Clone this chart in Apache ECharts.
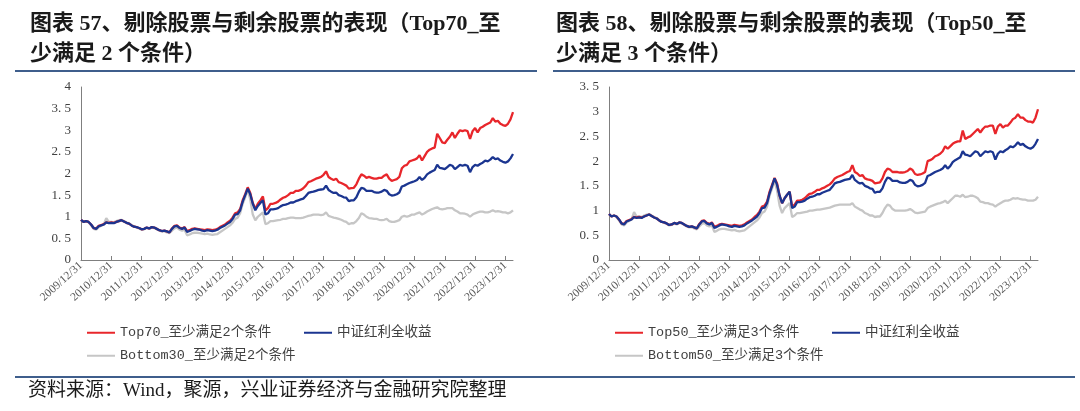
<!DOCTYPE html>
<html><head><meta charset="utf-8">
<script src="https://cdn.jsdelivr.net/npm/echarts@6/dist/echarts.min.js"></script>
<style>html,body{margin:0;padding:0;background:#fff}#c{width:1080px;height:411px}</style>
</head><body><div id="c"></div>
<script>
// Monthly points, 2009/12 .. 2024/03 (172 months)
const tickLabels = ['2009/12/31','2010/12/31','2011/12/31','2012/12/31','2013/12/31','2014/12/31','2015/12/31','2016/12/31','2017/12/31','2018/12/31','2019/12/31','2020/12/31','2021/12/31','2022/12/31','2023/12/31'];

const dividendIndex = [0.93,
0.88,0.9,0.88,0.82,0.74,0.72,0.78,0.8,0.82,0.87,0.85,0.86,
0.85,0.88,0.9,0.92,0.89,0.86,0.84,0.8,0.77,0.76,0.74,0.71,
0.72,0.75,0.73,0.76,0.75,0.72,0.69,0.67,0.68,0.66,0.64,0.72,
0.78,0.79,0.74,0.72,0.75,0.65,0.67,0.7,0.72,0.71,0.7,0.68,
0.67,0.69,0.68,0.67,0.68,0.7,0.74,0.77,0.8,0.84,0.88,0.95,
1.05,1.06,1.15,1.35,1.5,1.65,1.52,1.3,1.15,1.25,1.32,1.38,
1.05,1.08,1.17,1.17,1.18,1.2,1.24,1.27,1.28,1.3,1.33,1.33,
1.36,1.38,1.4,1.42,1.48,1.55,1.57,1.58,1.6,1.62,1.63,1.64,
1.72,1.62,1.58,1.55,1.56,1.5,1.48,1.45,1.44,1.36,1.38,1.38,
1.45,1.58,1.67,1.65,1.6,1.6,1.6,1.57,1.56,1.56,1.58,1.62,
1.6,1.52,1.49,1.5,1.52,1.56,1.7,1.72,1.75,1.78,1.8,1.82,
1.85,1.92,1.85,1.9,1.98,2.02,2.05,2.08,2.2,2.13,2.12,2.1,
2.15,2.2,2.18,2.1,2.15,2.2,2.18,2.2,2.18,2.03,2.15,2.2,
2.18,2.22,2.25,2.3,2.28,2.32,2.38,2.33,2.35,2.3,2.27,2.25,
2.28,2.35,2.45];

const top70 = [0.93,
0.88,0.9,0.88,0.82,0.74,0.73,0.79,0.81,0.83,0.87,0.86,0.87,
0.86,0.88,0.9,0.92,0.89,0.86,0.84,0.8,0.77,0.76,0.74,0.71,
0.72,0.75,0.73,0.76,0.75,0.72,0.69,0.67,0.68,0.66,0.64,0.73,
0.79,0.8,0.75,0.73,0.76,0.67,0.69,0.72,0.73,0.72,0.71,0.7,
0.69,0.71,0.7,0.69,0.7,0.72,0.76,0.79,0.82,0.87,0.91,0.98,
1.08,1.1,1.18,1.38,1.52,1.68,1.55,1.32,1.18,1.3,1.38,1.47,
1.15,1.2,1.3,1.3,1.32,1.35,1.4,1.44,1.46,1.5,1.55,1.55,
1.6,1.6,1.62,1.66,1.72,1.8,1.82,1.85,1.88,1.9,1.92,1.97,
2.05,1.92,1.88,1.85,1.88,1.8,1.78,1.75,1.72,1.65,1.66,1.67,
1.75,1.88,1.98,1.95,1.9,1.92,1.9,1.88,1.88,1.9,1.9,1.95,
1.98,1.88,1.83,1.85,1.87,1.92,2.12,2.18,2.2,2.28,2.3,2.32,
2.35,2.42,2.3,2.4,2.5,2.55,2.58,2.6,2.92,2.82,2.72,2.7,
2.78,2.85,2.95,2.82,2.92,3.0,2.98,3.0,2.98,2.8,2.98,3.05,
2.95,3.05,3.08,3.12,3.15,3.18,3.28,3.2,3.22,3.15,3.12,3.1,
3.15,3.25,3.42];

const bottom30 = [0.93,
0.88,0.9,0.87,0.8,0.72,0.7,0.76,0.79,0.82,0.97,0.88,0.88,
0.87,0.9,0.92,0.93,0.9,0.87,0.85,0.81,0.78,0.75,0.73,0.7,
0.71,0.74,0.72,0.75,0.74,0.71,0.68,0.66,0.66,0.64,0.62,0.68,
0.73,0.75,0.7,0.68,0.7,0.57,0.59,0.62,0.63,0.63,0.62,0.61,
0.6,0.61,0.59,0.58,0.59,0.6,0.64,0.68,0.72,0.76,0.8,0.86,
0.95,0.98,1.08,1.3,1.45,1.62,1.4,1.05,0.92,1.0,1.05,1.1,
0.83,0.85,0.9,0.9,0.91,0.92,0.93,0.95,0.95,0.97,0.98,0.98,
0.97,0.97,0.97,0.98,1.0,1.02,1.03,1.05,1.05,1.05,1.04,1.05,
1.1,1.02,1.0,0.98,0.97,0.95,0.93,0.9,0.88,0.83,0.85,0.85,
0.9,0.97,1.08,1.05,1.0,0.97,0.96,0.95,0.95,0.93,0.92,0.93,
0.95,0.9,0.88,0.88,0.9,0.92,1.0,1.02,1.0,1.02,1.05,1.05,
1.08,1.1,1.05,1.08,1.12,1.15,1.18,1.2,1.22,1.18,1.17,1.18,
1.2,1.2,1.2,1.15,1.12,1.08,1.08,1.07,1.05,1.0,1.05,1.08,
1.1,1.12,1.12,1.1,1.1,1.12,1.15,1.12,1.13,1.12,1.1,1.1,
1.08,1.1,1.15];

const top50 = [0.93,
0.88,0.9,0.88,0.82,0.74,0.73,0.79,0.81,0.83,0.87,0.86,0.87,
0.86,0.88,0.9,0.92,0.89,0.86,0.84,0.8,0.77,0.76,0.74,0.71,
0.72,0.75,0.73,0.76,0.75,0.72,0.69,0.67,0.68,0.66,0.64,0.73,
0.79,0.8,0.75,0.73,0.76,0.67,0.69,0.72,0.73,0.72,0.71,0.7,
0.69,0.71,0.7,0.69,0.7,0.72,0.76,0.79,0.82,0.87,0.91,0.98,
1.08,1.1,1.18,1.38,1.52,1.66,1.55,1.3,1.15,1.25,1.32,1.38,
1.08,1.12,1.2,1.2,1.22,1.25,1.3,1.34,1.35,1.38,1.42,1.42,
1.45,1.47,1.5,1.53,1.58,1.65,1.68,1.7,1.72,1.75,1.78,1.8,
1.92,1.78,1.75,1.7,1.72,1.65,1.63,1.62,1.6,1.55,1.56,1.57,
1.65,1.78,1.85,1.83,1.78,1.78,1.78,1.77,1.77,1.78,1.8,1.85,
1.82,1.74,1.72,1.73,1.75,1.78,2.0,2.02,2.05,2.1,2.12,2.15,
2.2,2.3,2.25,2.3,2.35,2.38,2.4,2.4,2.62,2.45,2.48,2.5,
2.55,2.6,2.65,2.58,2.65,2.7,2.7,2.72,2.72,2.55,2.7,2.75,
2.68,2.72,2.72,2.78,2.85,2.88,2.95,2.88,2.88,2.83,2.8,2.8,
2.78,2.88,3.05];

const bottom50 = [0.93,
0.88,0.9,0.87,0.8,0.72,0.7,0.76,0.79,0.82,0.97,0.88,0.88,
0.87,0.9,0.92,0.93,0.9,0.87,0.85,0.81,0.78,0.75,0.73,0.7,
0.71,0.74,0.72,0.75,0.74,0.71,0.68,0.66,0.66,0.64,0.62,0.68,
0.73,0.75,0.7,0.68,0.7,0.57,0.59,0.62,0.63,0.63,0.62,0.61,
0.6,0.61,0.59,0.58,0.59,0.6,0.64,0.68,0.72,0.76,0.8,0.86,
0.95,0.98,1.08,1.3,1.45,1.6,1.4,1.1,0.95,1.05,1.1,1.15,
0.87,0.9,0.95,0.95,0.96,0.97,0.98,1.0,1.0,1.01,1.02,1.02,
1.03,1.04,1.05,1.06,1.08,1.1,1.11,1.12,1.12,1.12,1.12,1.12,
1.15,1.08,1.05,1.02,1.0,0.95,0.93,0.9,0.9,0.87,0.88,0.88,
0.95,1.05,1.12,1.1,1.03,1.0,1.0,1.0,1.0,1.0,1.01,1.03,
1.0,0.96,0.95,0.96,0.97,0.98,1.05,1.08,1.1,1.12,1.14,1.15,
1.17,1.2,1.15,1.2,1.25,1.3,1.3,1.28,1.32,1.27,1.28,1.3,
1.3,1.28,1.25,1.18,1.17,1.15,1.15,1.13,1.12,1.08,1.12,1.15,
1.18,1.2,1.2,1.22,1.25,1.24,1.25,1.23,1.22,1.22,1.2,1.2,
1.2,1.22,1.28];

const names = {
  top70: 'Top70_至少满足2个条件',
  bottom30: 'Bottom30_至少满足2个条件',
  index: '中证红利全收益',
  top50: 'Top50_至少满足3个条件',
  bottom50: 'Bottom50_至少满足3个条件'
};

// month categories 2009/12 .. 2024/03
const months = [];
for (let y = 2009, m = 12; months.length < dividendIndex.length; ) {
  months.push(y + '/' + String(m).padStart(2, '0'));
  m++; if (m > 12) { m = 1; y++; }
}

const RED = '#E8262B', BLUE = '#1B3590', GRAY = '#C6C6C6';
const SERIF = "'Liberation Serif','Times New Roman',serif";
const LEGFONT = "'Liberation Mono','Noto Sans CJK SC',monospace";
const TITLEFONT = "bold 22px 'Liberation Serif','Noto Sans CJK SC',serif";

function xAxis(gi) {
  return {
    type: 'category', gridIndex: gi, data: months, boundaryGap: false,
    axisLine: { lineStyle: { color: '#7f7f7f', width: 1 } },
    axisTick: { inside: true, length: 4, lineStyle: { color: '#7f7f7f' },
      interval: (i) => i % 12 === 0 && i <= 168 },
    axisLabel: { rotate: 42, fontSize: 11.5, fontFamily: SERIF, color: '#595959', margin: 4,
      interval: (i) => i % 12 === 0 && i <= 168,
      formatter: (v, i) => tickLabels[Math.floor(i / 12)] },
    splitLine: { show: false }
  };
}
function yAxis(gi, max) {
  return {
    type: 'value', gridIndex: gi, min: 0, max: max, interval: 0.5,
    axisLine: { show: true, lineStyle: { color: '#7f7f7f', width: 1 } },
    axisTick: { show: false },
    splitLine: { show: false },
    axisLabel: { fontSize: 13, fontFamily: SERIF, color: '#404040', margin: 10,
      formatter: (v) => String(v).replace('.', '. ') }
  };
}
function line(name, data, color, xi, z) {
  return { name, type: 'line', data, xAxisIndex: xi, yAxisIndex: xi, symbol: 'none',
    lineStyle: { color, width: 2.3 }, itemStyle: { color }, z, animation: false };
}
function legend(name, left, top) {
  return { data: [name], left, top, itemWidth: 28, itemHeight: 2, icon: 'rect',
    textStyle: { fontFamily: LEGFONT, fontSize: 13.5, color: '#404040' }, itemGap: 0, padding: 0 };
}

const chart = echarts.init(document.getElementById('c'), null, { renderer: 'canvas' });
chart.setOption({
  backgroundColor: '#fff',
  animation: false,
  grid: [
    { left: 81, right: 567, top: 87, bottom: 151 },
    { left: 609, right: 42, top: 87, bottom: 151 }
  ],
  xAxis: [xAxis(0), xAxis(1)],
  yAxis: [yAxis(0, 4), yAxis(1, 3.5)],
  legend: [
    legend(names.top70, 87, 326),
    legend(names.index, 304, 326),
    legend(names.bottom30, 87, 349),
    legend(names.top50, 615, 326),
    legend(names.index, 832, 326),
    legend(names.bottom50, 615, 349)
  ],
  series: [
    line(names.bottom30, bottom30, GRAY, 0, 2),
    line(names.top70, top70, RED, 0, 3),
    line(names.index, dividendIndex, BLUE, 0, 4),
    line(names.bottom50, bottom50, GRAY, 1, 2),
    line(names.top50, top50, RED, 1, 3),
    line(names.index, dividendIndex, BLUE, 1, 4)
  ],
  graphic: [
    { type: 'text', left: 30, top: 13, style: { text: '图表 57、剔除股票与剩余股票的表现（Top70_至', font: TITLEFONT, fill: '#1a1a1a' } },
    { type: 'text', left: 30, top: 43, style: { text: '少满足 2 个条件）', font: TITLEFONT, fill: '#1a1a1a' } },
    { type: 'text', left: 556, top: 13, style: { text: '图表 58、剔除股票与剩余股票的表现（Top50_至', font: TITLEFONT, fill: '#1a1a1a' } },
    { type: 'text', left: 556, top: 43, style: { text: '少满足 3 个条件）', font: TITLEFONT, fill: '#1a1a1a' } },
    { type: 'rect', shape: { x: 15, y: 70, width: 522, height: 2 }, style: { fill: '#3F5E8C' } },
    { type: 'rect', shape: { x: 553, y: 70, width: 522, height: 2 }, style: { fill: '#3F5E8C' } },
    { type: 'rect', shape: { x: 15, y: 376, width: 1060, height: 2 }, style: { fill: '#3F5E8C' } },
    { type: 'text', left: 28, top: 382, style: { text: '资料来源：Wind，聚源，兴业证券经济与金融研究院整理', font: "19px 'Liberation Serif','Noto Sans CJK SC',serif", fill: '#1a1a1a' } }
  ]
});
</script>
</body></html>
